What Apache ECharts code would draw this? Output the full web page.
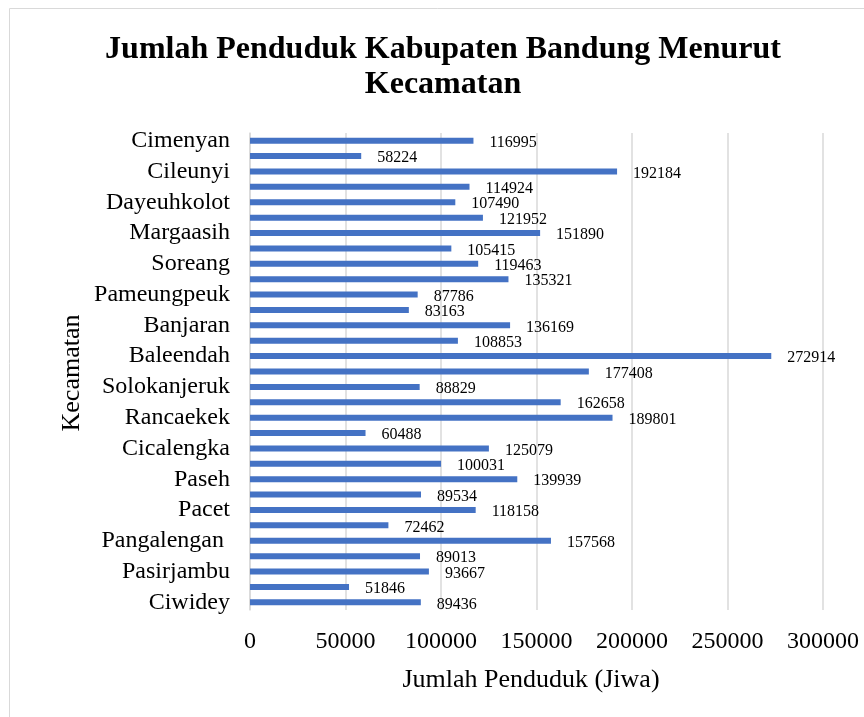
<!DOCTYPE html>
<html><head><meta charset="utf-8">
<script src="https://cdn.jsdelivr.net/npm/echarts@6/dist/echarts.min.js"></script>
<style>html,body{margin:0;padding:0;background:#fff}#c{width:864px;height:717px}</style>
</head><body><div id="c"></div>
<script>
// bottom-to-top order (ECharts category axis runs from bottom)
const categories = ["Ciwidey","Rancabali","Pasirjambu","Cimaung","Pangalengan ","Kertasari","Pacet","Ibun","Paseh","Cikancung","Cicalengka","Nagreg","Rancaekek","Majalaya","Solokanjeruk","Ciparay","Baleendah","Arjasari","Banjaran","Cangkuang","Pameungpeuk","Katapang","Soreang","Kutawaringin","Margaasih","Margahayu","Dayeuhkolot","Bojongsoang","Cileunyi","Cilengkrang","Cimenyan"];
const penduduk = [89436,51846,93667,89013,157568,72462,118158,89534,139939,100031,125079,60488,189801,162658,88829,177408,272914,108853,136169,83163,87786,135321,119463,105415,151890,121952,107490,114924,192184,58224,116995];
const xTicks = {min:0, max:300000, interval:50000};
const titleLines = ["Jumlah Penduduk Kabupaten Bandung Menurut", "Kecamatan"];
const xName = "Jumlah Penduduk (Jiwa)";
const yName = "Kecamatan";

const F = "'Liberation Serif','Times New Roman',serif";
const chart = echarts.init(document.getElementById('c'), null, {renderer:'canvas'});
chart.setOption({
  animation:false,
  graphic:[
    {type:'rect', shape:{x:9.5,y:8.5,width:900,height:800}, style:{fill:'none',stroke:'#d9d9d9',lineWidth:1}, silent:true},
    {type:'text', x:443, y:50, style:{text:titleLines[0], font:"bold 32px "+F, fill:'#000', textAlign:'center', textVerticalAlign:'middle'}},
    {type:'text', x:443, y:85, style:{text:titleLines[1], font:"bold 32px "+F, fill:'#000', textAlign:'center', textVerticalAlign:'middle'}},
    {type:'text', x:531, y:680, style:{text:xName, font:"26px "+F, fill:'#000', textAlign:'center', textVerticalAlign:'middle'}},
    {type:'text', x:72, y:373, rotation:Math.PI/2, style:{text:yName, font:"26px "+F, fill:'#000', textAlign:'center', textVerticalAlign:'middle'}}
  ],
  grid:{left:250, right:41, top:133, bottom:107, containLabel:false},
  xAxis:{type:'value', min:xTicks.min, max:xTicks.max, interval:xTicks.interval,
    axisLine:{show:false}, axisTick:{show:false},
    splitLine:{lineStyle:{color:'#d9d9d9', width:1.5}},
    axisLabel:{fontFamily:F, fontSize:24, color:'#000', margin:20, formatter:function(v){return String(v);}}},
  yAxis:{type:'category', data:categories,
    axisLine:{lineStyle:{color:'#d9d9d9', width:1.5}}, axisTick:{show:false},
    axisLabel:{interval:1, fontFamily:F, fontSize:24, color:'#000', margin:20}},
  series:[{type:'bar', data:penduduk, barWidth:6, itemStyle:{color:'#4472C4'},
    label:{show:true, position:'right', distance:16, offset:[0,2], fontFamily:F, fontSize:16, color:'#000'}}]
});
</script></body></html>
